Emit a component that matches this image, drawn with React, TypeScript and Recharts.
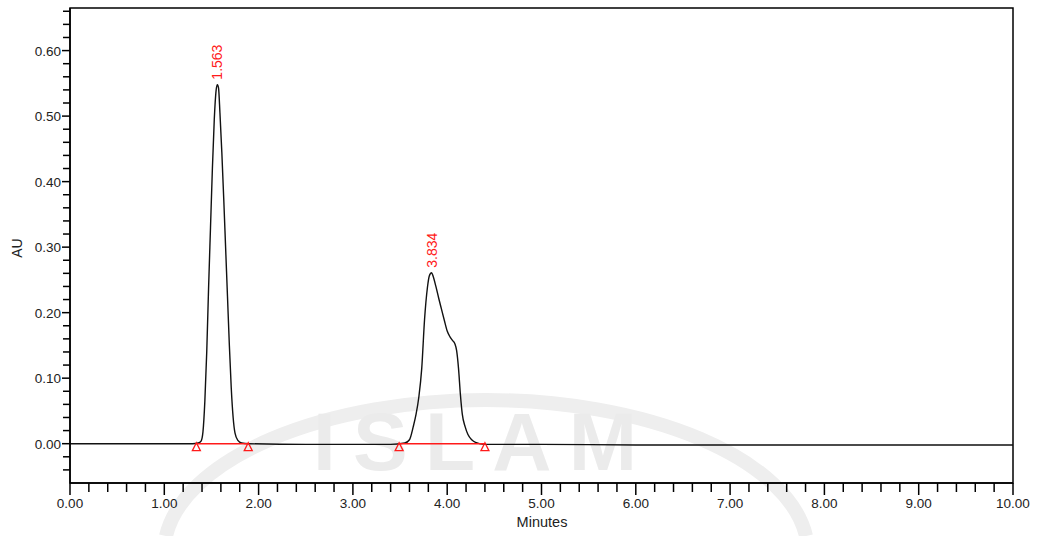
import React from "react";
import {
  LineChart,
  Line,
  XAxis,
  YAxis,
  ReferenceLine,
  ReferenceDot,
  ReferenceArea,
} from "recharts";

// retention time (min), absorbance (AU)
const leadIn = [
  [0.0, 0.0],
  [0.5, 0.0],
  [1.0, 0.0],
  [1.3, 0.0],
];

const peakOne = [
  [1.36, 0.001],
  [1.39, 0.004],
  [1.41, 0.018],
  [1.43, 0.065],
  [1.45, 0.14],
  [1.47, 0.24],
  [1.49, 0.33],
  [1.51, 0.42],
  [1.53, 0.495],
  [1.55, 0.54],
  [1.563, 0.548],
  [1.575, 0.543],
  [1.59, 0.505],
  [1.61, 0.445],
  [1.63, 0.375],
  [1.65, 0.3],
  [1.67, 0.225],
  [1.69, 0.15],
  [1.71, 0.085],
  [1.73, 0.04],
  [1.75, 0.016],
  [1.78, 0.005],
  [1.82, 0.001],
];

const gapBase = [
  [1.9, 0.0],
  [2.5, -0.001],
  [3.0, -0.001],
  [3.4, -0.001],
];

const peakTwo = [
  [3.55, 0.001],
  [3.6, 0.006],
  [3.64, 0.026],
  [3.67, 0.045],
  [3.7, 0.072],
  [3.73, 0.115],
  [3.76, 0.19],
  [3.79, 0.238],
  [3.81, 0.256],
  [3.834, 0.261],
  [3.85, 0.256],
  [3.88, 0.24],
  [3.91, 0.222],
  [3.94, 0.205],
  [3.97, 0.188],
  [4.0, 0.172],
  [4.03, 0.163],
  [4.06, 0.157],
  [4.08, 0.153],
  [4.1, 0.142],
  [4.12, 0.115],
  [4.14, 0.075],
  [4.16, 0.045],
  [4.19, 0.026],
  [4.22, 0.014],
  [4.26, 0.006],
  [4.3, 0.002],
];

const tailBase = [
  [4.4, -0.001],
  [5.0, -0.001],
  [6.0, -0.002],
  [7.0, -0.002],
  [8.0, -0.002],
  [9.0, -0.002],
  [10.0, -0.002],
];

const peakLabels = [
  { t: 1.563, au: 0.548, text: "1.563" },
  { t: 3.834, au: 0.261, text: "3.834" },
];

// integration baselines (start, end)
const integrations = [
  [1.34, 1.89],
  [3.49, 4.4],
];

const xMajor = [0, 1, 2, 3, 4, 5, 6, 7, 8, 9, 10];
const yMajor = [0, 0.1, 0.2, 0.3, 0.4, 0.5, 0.6];

const xTicks: number[] = [];
for (let i = 0; i <= 50; i++) xTicks.push(+(i * 0.2).toFixed(2));
const yTicks: number[] = [];
for (let i = -2; i <= 33; i++) yTicks.push(+(i * 0.02).toFixed(2));

const trace = [...leadIn, ...peakOne, ...gapBase, ...peakTwo, ...tailBase].map(
  ([t, au]) => ({ t, au })
);

const FONT = "'Liberation Sans', Arial, sans-serif";
const RED = "#ff1a1a";

const isMajor = (v: number, list: number[]) =>
  list.some((m) => Math.abs(m - v) < 1e-6);

const XTick = (props: any) => {
  const { x, y, payload } = props;
  const major = isMajor(payload.value, xMajor);
  return (
    <g>
      <line x1={x} x2={x} y1={y} y2={y + (major ? 12 : 9)} stroke="#000" strokeWidth={1.5} />
      {major && (
        <text
          x={x}
          y={y + 25}
          textAnchor="middle"
          fontFamily={FONT}
          fontSize={13.5}
          fill="#222"
        >
          {payload.value.toFixed(2)}
        </text>
      )}
    </g>
  );
};

const YTick = (props: any) => {
  const { x, y, payload } = props;
  const major = isMajor(payload.value, yMajor);
  return (
    <g>
      <line x1={x - (major ? 8 : 7)} x2={x} y1={y} y2={y} stroke="#000" strokeWidth={1.5} />
      {major && (
        <text
          x={x - 9}
          y={y + 5}
          textAnchor="end"
          fontFamily={FONT}
          fontSize={13.5}
          fill="#222"
        >
          {payload.value.toFixed(2)}
        </text>
      )}
    </g>
  );
};

const Watermark = () => (
  <svg
    width={1038}
    height={536}
    style={{ position: "absolute", left: 0, top: 0 }}
  >
    <path
      d="M 166 536 A 322 153 0 0 1 806 536"
      fill="none"
      stroke="#eeeeee"
      strokeWidth={14}
    />
    <text
      x={313}
      y={470}
      fontFamily={FONT}
      fontSize={82}
      fontWeight="bold"
      fill="#ebebeb"
      textLength={324}
      lengthAdjust="spacing"
    >
      ISLAM
    </text>
  </svg>
);

export default function App() {
  return (
    <div
      style={{
        position: "absolute",
        left: 0,
        top: 0,
        width: 1038,
        height: 536,
        background: "#fff",
      }}
    >
      <Watermark />
      <div style={{ position: "absolute", left: 0, top: 0 }}>
        <LineChart
          width={1038}
          height={536}
          data={trace}
          margin={{ top: 8, right: 25, left: 0, bottom: 0 }}
        >
          <XAxis
            dataKey="t"
            type="number"
            domain={[0, 10]}
            ticks={xTicks}
            interval={0}
            tickSize={0}
            tickMargin={0}
            tick={<XTick />}
            height={53}
            axisLine={{ stroke: "#000", strokeWidth: 1.5 }}
            tickLine={false}
            allowDataOverflow
          />
          <YAxis
            type="number"
            domain={[-0.06, 0.665]}
            ticks={yTicks}
            interval={0}
            tickSize={0}
            tickMargin={0}
            tick={<YTick />}
            width={70}
            axisLine={{ stroke: "#000", strokeWidth: 1.5 }}
            tickLine={false}
            allowDataOverflow
          />
          <ReferenceArea
            x1={0}
            x2={10}
            y1={-0.06}
            y2={0.665}
            fill="none"
            stroke="#000"
            strokeWidth={1.5}
          />
          <Line
            type="monotone"
            dataKey="au"
            stroke="#111"
            strokeWidth={1.4}
            dot={false}
            isAnimationActive={false}
          />
          {integrations.map(([a, b], i) => (
            <ReferenceLine
              key={"seg" + i}
              segment={[
                { x: a, y: 0 },
                { x: b, y: 0 },
              ]}
              stroke={RED}
              strokeWidth={1.4}
            />
          ))}
          {integrations.flat().map((t, i) => (
            <ReferenceDot
              key={"tri" + i}
              x={t}
              y={0}
              r={0}
              shape={(p: any) => (
                <polygon
                  points={`${p.cx},${p.cy - 1} ${p.cx - 4},${p.cy + 7} ${p.cx + 4},${p.cy + 7}`}
                  fill="none"
                  stroke={RED}
                  strokeWidth={1.3}
                />
              )}
            />
          ))}
          {peakLabels.map((pk) => (
            <ReferenceDot
              key={pk.text}
              x={pk.t}
              y={pk.au}
              r={0}
              shape={(p: any) => (
                <text
                  x={p.cx}
                  y={p.cy - 5}
                  transform={`rotate(-90 ${p.cx} ${p.cy - 5})`}
                  textAnchor="start"
                  dominantBaseline="central"
                  fontFamily={FONT}
                  fontSize={14}
                  fill={RED}
                >
                  {pk.text}
                </text>
              )}
            />
          ))}
        </LineChart>
      </div>
      <svg
        width={1038}
        height={536}
        style={{ position: "absolute", left: 0, top: 0, pointerEvents: "none" }}
      >
        <text
          x={22}
          y={248}
          transform="rotate(-90 22 248)"
          textAnchor="middle"
          fontFamily={FONT}
          fontSize={14}
          fill="#222"
        >
          AU
        </text>
        <text
          x={542}
          y={527}
          textAnchor="middle"
          fontFamily={FONT}
          fontSize={14.5}
          fill="#222"
        >
          Minutes
        </text>
      </svg>
    </div>
  );
}
